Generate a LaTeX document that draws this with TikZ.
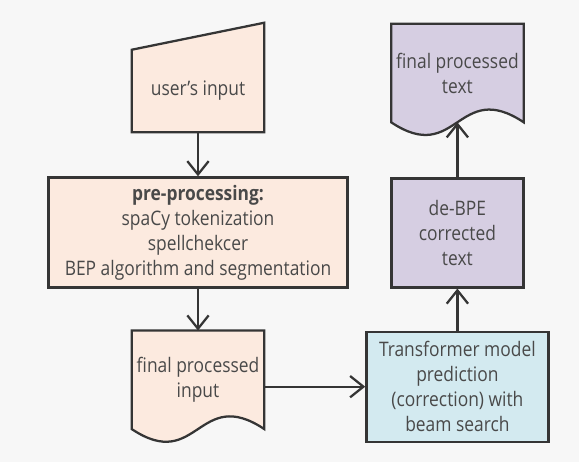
\documentclass[tikz,border=0pt]{standalone}
\usepackage{fontspec}
\setmainfont[FakeStretch=0.87]{Open Sans}
\usetikzlibrary{arrows.meta, positioning, backgrounds}
\newcommand{\docwidth}{99pt}
\newcommand{\docheight}{73.5pt}
\newcommand{\wavedepth}{33pt}
\definecolor{peach}{HTML}{FCEADF}
\definecolor{paleblue}{HTML}{D3EAF0}
\definecolor{lilac}{HTML}{D6CEE2}
\definecolor{inkgray}{HTML}{353535}
\tikzstyle{base} = [% common node text
  text centered,
  align=center,
  text=inkgray!90,
  inner sep=2pt,
  font=\fontsize{15}{18.75}\selectfont
  ]
\tikzstyle{manualin} = [% manual input node, outline drawn afterwards
  base,
  rectangle,
  minimum width=\docwidth,
  minimum height=61.5pt
  ]
\tikzstyle{process} = [% process node
  base,
  rectangle,
  draw=inkgray,
  line width=1.7pt
  ]
\tikzstyle{doc} = [% document node, outline drawn afterwards
  base,
  rectangle,
  minimum width=\docwidth,
  minimum height=\docheight
  ]
\tikzstyle{outline} = [% outline of hand drawn shapes
  draw=inkgray,
  line width=1.7pt,
  line join=miter
  ]
\tikzstyle{arrow} = [% arrow format
  draw=inkgray,
  line width=1.7pt,
  -{Straight Barb[length=10pt, width=16pt, line width=1.7pt]}
  ]

\begin{document}
\begin{tikzpicture}

%%% Nodes
\node[manualin] (userin) at (148.5pt, -68.25pt) {user's input};
\node[process, fill=peach, minimum width=224.25pt, minimum height=82.5pt]
  (preproc) [below=33pt of userin]
  {\textbf{pre-processing:}\\spaCy tokenization\\spellchekcer\\BEP algorithm and segmentation};
\node[doc] (finput) [below=31.5pt of preproc] {final processed\\input};
\node[process, fill=paleblue, minimum width=136.5pt, minimum height=82.5pt]
  (trans) [right=75.75pt of finput.north east, anchor=north west]
  {Transformer model\\prediction\\(correction) with\\beam search};
\node[process, fill=lilac, minimum width=\docwidth, minimum height=81.75pt]
  (debpe) [above=31.5pt of trans] {de-BPE\\corrected\\text};
\node[doc] (ftext) [above=41.25pt of debpe] {final processed\\text};

%%% Shapes behind the text
\begin{scope}[on background layer]
  \fill[black!3] (0pt, 0pt) rectangle (434.25pt, -346.5pt);
  \path[outline, fill=peach] (userin.south west) -- (userin.north west)
    -- ([yshift=20.25pt]userin.north east) -- (userin.south east) -- cycle;
  \path[outline, fill=peach] (finput.north west) -- (finput.north east)
    -- (finput.south east) .. controls +(-49.5pt, \wavedepth) and +(49.5pt, -\wavedepth) .. (finput.south west)
    -- cycle;
  \path[outline, fill=lilac] (ftext.north west) -- (ftext.north east)
    -- (ftext.south east) .. controls +(-49.5pt, \wavedepth) and +(49.5pt, -\wavedepth) .. (ftext.south west)
    -- cycle;
\end{scope}

%%% Arrows
\draw[arrow] (userin) -- (preproc);
\draw[arrow] (preproc) -- (finput);
\draw[arrow] (finput.east |- trans) -- (trans);
\draw[arrow] (trans) -- (debpe);
\draw[arrow] (debpe) -- (ftext);

\end{tikzpicture}
\end{document}
